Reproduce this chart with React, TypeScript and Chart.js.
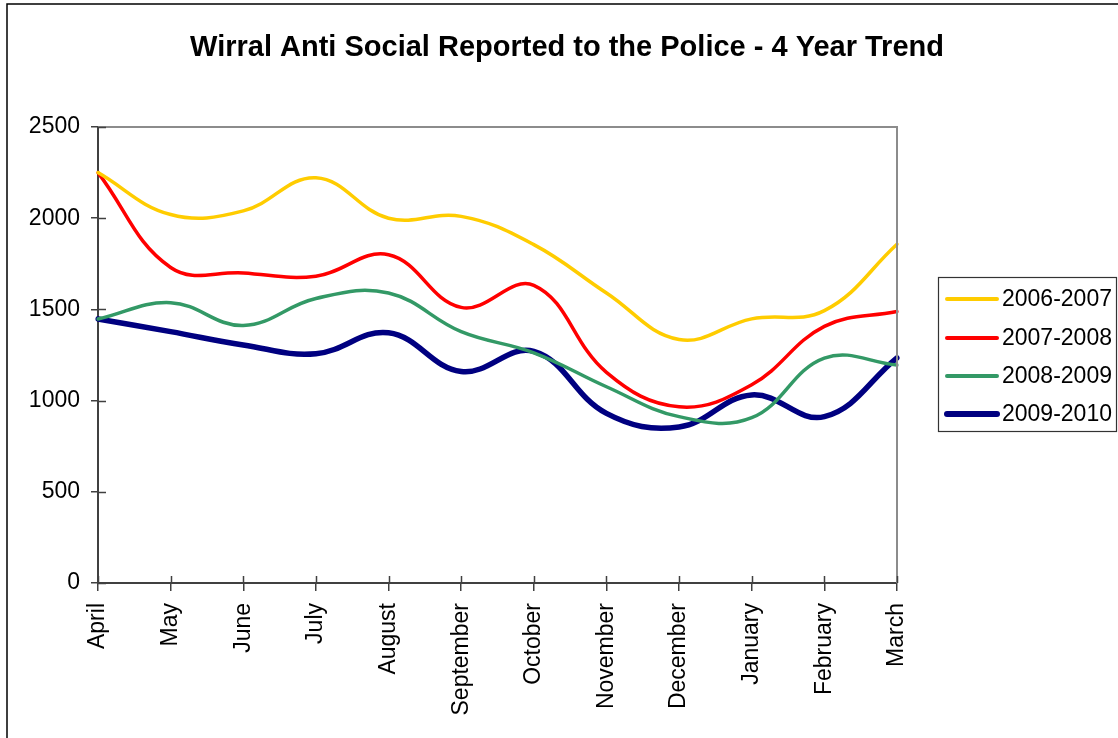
import React, { useEffect, useRef } from 'react';
import { Chart, registerables } from 'chart.js';

Chart.register(...registerables);

const months = ['April', 'May', 'June', 'July', 'August', 'September', 'October', 'November', 'December', 'January', 'February', 'March'];
const seriesLabels = ['2006-2007', '2007-2008', '2008-2009', '2009-2010'];
const values0607 = [2250, 2020, 2040, 2222, 2000, 2010, 1855, 1590, 1335, 1448, 1493, 1857];
const values0708 = [2250, 1730, 1700, 1682, 1800, 1511, 1632, 1155, 966, 1087, 1407, 1488];
const values0809 = [1447, 1537, 1412, 1560, 1590, 1378, 1262, 1076, 912, 906, 1233, 1195];
const values0910 = [1447, 1378, 1305, 1257, 1372, 1160, 1270, 930, 855, 1031, 912, 1234];
const yTicks = [0, 500, 1000, 1500, 2000, 2500];
const titleText = 'Wirral Anti Social Reported to the Police - 4 Year Trend';

const FONT = '"Liberation Sans", Arial, Helvetica, sans-serif';
const COLORS = ['#FFCC00', '#FF0000', '#339966', '#000080'];
const WIDTHS = [3.5, 3.5, 3.5, 5.5];

export default function App() {
  const ref = useRef<HTMLCanvasElement>(null);

  useEffect(() => {
    const canvas = ref.current;
    if (!canvas) return;
    const seriesValues = [values0607, values0708, values0809, values0910];

    const decor = {
      id: 'decor',
      beforeDraw(chart: any) {
        const ctx = chart.ctx;
        ctx.save();
        ctx.fillStyle = '#ffffff';
        ctx.fillRect(0, 0, chart.width, chart.height);
        ctx.strokeStyle = '#000000';
        ctx.lineWidth = 1.5;
        ctx.strokeRect(7, 4, 1300, 900);
        ctx.restore();
      },
      afterDraw(chart: any) {
        const ctx = chart.ctx;
        const { left, right, top, bottom } = chart.chartArea;
        ctx.save();
        // plot frame top/right in gray
        ctx.strokeStyle = '#8c8c8c';
        ctx.lineWidth = 2;
        ctx.beginPath();
        ctx.moveTo(left, top);
        ctx.lineTo(right, top);
        ctx.lineTo(right, bottom);
        ctx.stroke();
        // inner halves of cross tick marks
        ctx.strokeStyle = '#404040';
        ctx.lineWidth = 1.5;
        ctx.beginPath();
        yTicks.forEach((v) => {
          const y = Math.round(chart.scales.y.getPixelForValue(v)) + 0.5;
          ctx.moveTo(left, y);
          ctx.lineTo(left + 8, y);
        });
        months.forEach((_, i) => {
          const x = Math.round(chart.scales.x.getPixelForValue(i)) + 0.5;
          ctx.moveTo(x, bottom);
          ctx.lineTo(x, bottom - 7);
        });
        ctx.stroke();
        // title
        ctx.fillStyle = '#000000';
        ctx.font = `bold 29px ${FONT}`;
        ctx.textAlign = 'center';
        ctx.textBaseline = 'alphabetic';
        ctx.fillText(titleText, 567, 56);
        // legend
        ctx.strokeStyle = '#333333';
        ctx.lineWidth = 1.2;
        ctx.strokeRect(938.5, 277.5, 178, 154);
        const rowY = [299, 338, 376, 414];
        ctx.font = `23px ${FONT}`;
        ctx.textAlign = 'left';
        ctx.textBaseline = 'middle';
        seriesLabels.forEach((lab, i) => {
          ctx.strokeStyle = COLORS[i];
          ctx.lineWidth = WIDTHS[i] + 0.5;
          ctx.lineCap = 'round';
          ctx.beginPath();
          ctx.moveTo(947, rowY[i]);
          ctx.lineTo(997, rowY[i]);
          ctx.stroke();
          ctx.fillStyle = '#000000';
          ctx.fillText(lab, 1002, rowY[i] + 1);
        });
        ctx.restore();
      },
    };

    const chart = new Chart(canvas, {
      type: 'line',
      data: {
        labels: months,
        datasets: seriesLabels.map((lab, i) => ({
          label: lab,
          data: seriesValues[i],
          borderColor: COLORS[i],
          backgroundColor: COLORS[i],
          borderWidth: WIDTHS[i],
          pointRadius: 0,
          pointHoverRadius: 0,
          tension: 0.4,
          fill: false,
          borderCapStyle: 'round',
          borderJoinStyle: 'round',
        })),
      },
      options: {
        responsive: false,
        animation: false,
        devicePixelRatio: 1,
        layout: { padding: { left: 0, top: 127, right: 1118 - 897, bottom: 0 } },
        plugins: {
          legend: { display: false },
          title: { display: false },
          tooltip: { enabled: false },
        },
        scales: {
          x: {
            type: 'category',
            offset: false,
            grid: {
              display: true,
              drawOnChartArea: false,
              drawTicks: true,
              tickLength: 8,
              tickColor: '#404040',
              lineWidth: 1.5,
            },
            border: { display: true, color: '#404040', width: 2 },
            ticks: {
              autoSkip: false,
              minRotation: 90,
              maxRotation: 90,
              padding: 12,
              color: '#000000',
              font: { family: FONT, size: 23 },
            },
            afterFit(scale: any) {
              scale.height = 738 - 583;
            },
          },
          y: {
            min: 0,
            max: 2500,
            grid: {
              display: true,
              drawOnChartArea: false,
              drawTicks: true,
              tickLength: 7,
              tickColor: '#404040',
              lineWidth: 1.5,
            },
            border: { display: true, color: '#404040', width: 2 },
            ticks: {
              stepSize: 500,
              padding: 11,
              color: '#000000',
              font: { family: FONT, size: 23 },
              callback: (value: any) => String(value),
            },
            afterFit(scale: any) {
              scale.width = 98;
            },
          },
        },
      },
      plugins: [decor],
    });

    return () => chart.destroy();
  }, []);

  return (
    <div style={{ position: 'absolute', left: 0, top: 0, width: 1118, height: 738, background: '#fff', overflow: 'hidden' }}>
      <canvas ref={ref} width={1118} height={738} style={{ display: 'block', width: 1118, height: 738 }} />
    </div>
  );
}
